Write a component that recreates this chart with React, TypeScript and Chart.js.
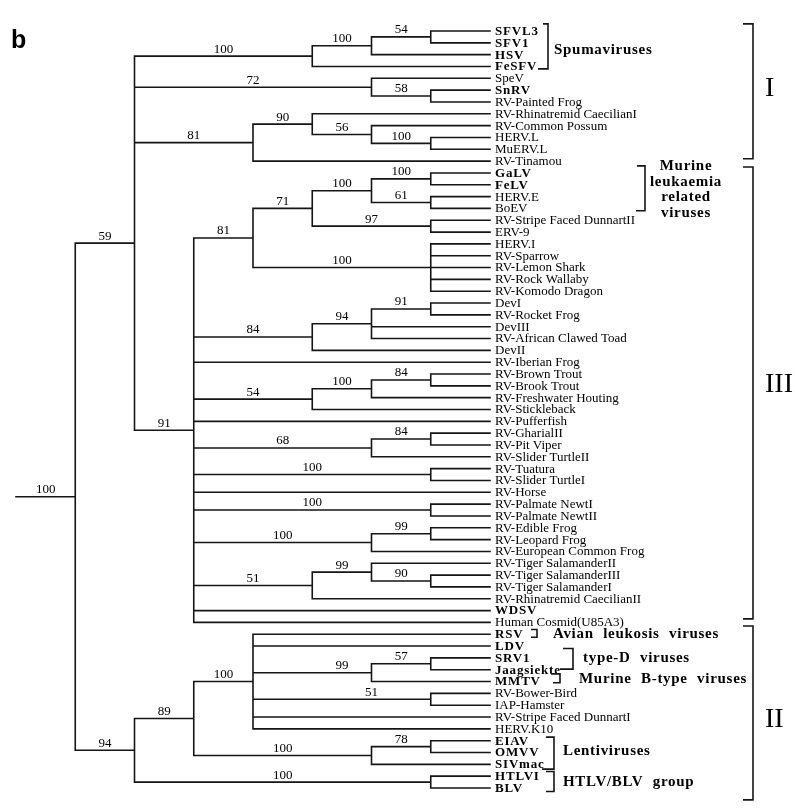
import React, { useEffect, useRef } from "react";
import { Chart, registerables } from "chart.js";

Chart.register(...registerables);

// ---------------- DATA ----------------
const LEAVES = [
  "SFVL3", "SFV1", "HSV", "FeSFV", "SpeV", "SnRV", "RV-Painted Frog",
  "RV-Rhinatremid CaecilianI", "RV-Common Possum", "HERV.L", "MuERV.L", "RV-Tinamou",
  "GaLV", "FeLV", "HERV.E", "BoEV", "RV-Stripe Faced DunnartII", "ERV-9",
  "HERV.I", "RV-Sparrow", "RV-Lemon Shark", "RV-Rock Wallaby", "RV-Komodo Dragon",
  "DevI", "RV-Rocket Frog", "DevIII", "RV-African Clawed Toad", "DevII", "RV-Iberian Frog",
  "RV-Brown Trout", "RV-Brook Trout", "RV-Freshwater Houting", "RV-Stickleback",
  "RV-Pufferfish", "RV-GharialII", "RV-Pit Viper", "RV-Slider TurtleII", "RV-Tuatura",
  "RV-Slider TurtleI", "RV-Horse", "RV-Palmate NewtI", "RV-Palmate NewtII",
  "RV-Edible Frog", "RV-Leopard Frog", "RV-European Common Frog",
  "RV-Tiger SalamanderII", "RV-Tiger SalamanderIII", "RV-Tiger SalamanderI",
  "RV-Rhinatremid CaecilianII", "WDSV", "Human Cosmid(U85A3)",
  "RSV", "LDV", "SRV1", "Jaagsiekte", "MMTV", "RV-Bower-Bird", "IAP-Hamster",
  "RV-Stripe Faced DunnartI", "HERV.K10", "EIAV", "OMVV", "SIVmac", "HTLVI", "BLV",
];

const BOLD_LEAVES = [
  "SFVL3", "SFV1", "HSV", "FeSFV", "SnRV", "GaLV", "FeLV", "WDSV", "RSV", "LDV",
  "SRV1", "Jaagsiekte", "MMTV", "EIAV", "OMVV", "SIVmac", "HTLVI", "BLV",
];

// Topology: leaves are indices into LEAVES; "(...)support@level" for internal nodes
// (level = column of the node, leaves sit in column 8); "#x" = column of the support label.
const TREE =
  "(" +
  "(" +
  "(((0,1)54@7,2)100@6,3)100@5," +
  "(4,(5,6)58@7)72@6," +
  "((7,(8,(9,10)100@7)56@6)90@5,11)81@4," +
  "(" +
  "((((12,13)100@7,(14,15)61@7)100@6,(16,17)97@7)71@5,(18,19,20,21,22)100@7)81@4," +
  "(((23,24)91@7,25,26)94@6,27)84@5," +
  "28," +
  "(((29,30)84@7,31)100@6,32)54@5," +
  "33," +
  "((34,35)84@7,36)68@6," +
  "(37,38)100@7," +
  "39," +
  "(40,41)100@7," +
  "((42,43)99@7,44)100@6," +
  "((45,(46,47)90@7)99@6,48)51@5," +
  "49," +
  "50" +
  ")91@3" +
  ")59@2," +
  "(" +
  "((51,52,((53,54)57@7,55)99@6#5.5,(56,57)51@7#6,58,59)100@4,((60,61)78@7,62)100@6)89@3," +
  "(63,64)100@7" +
  ")94@2" +
  ")100@1";

const GROUP_NAMES = [
  ["Spumaviruses"],
  ["Murine", "leukaemia", "related", "viruses"],
  ["Avian leukosis viruses"],
  ["type-D viruses"],
  ["Murine B-type viruses"],
  ["Lentiviruses"],
  ["HTLV/BLV group"],
];
const GROUP_FIRST = [0, 12, 51, 53, 55, 60, 63];
const GROUP_LAST = [3, 15, 51, 54, 55, 62, 64];

const CLADE_NAMES = ["I", "III", "II"];
const CLADE_FIRST = [0, 12, 51];
const CLADE_LAST = [11, 50, 64];

const PANEL_LABEL = "b";

// ---------------- LAYOUT / STYLE ----------------
const W = 795;
const H = 811;
const SERIF = "'Liberation Serif', 'Times New Roman', serif";
const INK = "#151515";
const GROUP_LAYOUT = [
  { bx: 548, tickTop: 5, tickBot: 10, tx: 554, row: 1.6, center: false },
  { bx: 645, tickTop: 8, tickBot: 9, tx: 686, row: 11.4, center: true },
  { bx: 537, tickTop: 6, tickBot: 6, tx: 553, row: 51, center: false },
  { bx: 573, tickTop: 10, tickBot: 13, tx: 583, row: 53, center: false },
  { bx: 560, tickTop: 9, tickBot: 7, tx: 579, row: 54.8, center: false },
  { bx: 554, tickTop: 8, tickBot: 12, tx: 563, row: 60.9, center: false },
  { bx: 554, tickTop: 8, tickBot: 8, tx: 563, row: 63.5, center: false },
];
const GROUP_SPAN = [
  [-0.6, 3.2], [11.4, 15.2], [50.6, 51.25], [52.2, 53.95], [54.35, 55.1], [59.7, 62.4], [62.6, 64.3],
];
const CLADE_SPAN = [
  [-0.6, 10.8], [11.5, 49.7], [50.3, 65.0],
];
const CLADE_LABEL_ROW = [4.8, 29.8, 58.1];

// ---------------- TREE PARSING ----------------
type TNode = {
  leaf: number;
  children: TNode[];
  support: string;
  level: number;
  labelLevel: number | null;
  y: number;
};

function parseTree(src: string): TNode {
  const s = src.replace(/\s+/g, "");
  let i = 0;
  const readNum = () => {
    let t = "";
    while (i < s.length && /[0-9.]/.test(s[i])) t += s[i++];
    return t;
  };
  const node = (): TNode => {
    if (s[i] === "(") {
      i++;
      const children: TNode[] = [node()];
      while (s[i] === ",") {
        i++;
        children.push(node());
      }
      i++; // ')'
      const support = readNum();
      let level = 8;
      let labelLevel: number | null = null;
      if (s[i] === "@") {
        i++;
        level = parseFloat(readNum());
      }
      if (s[i] === "#") {
        i++;
        labelLevel = parseFloat(readNum());
      }
      const y = (children[0].y + children[children.length - 1].y) / 2;
      return { leaf: -1, children, support, level, labelLevel, y };
    }
    const idx = parseInt(readNum(), 10);
    return { leaf: idx, children: [], support: "", level: 8, labelLevel: null, y: idx };
  };
  return node();
}

type Pt = { x: number; y: number };

function buildSegments(root: TNode) {
  const pts: Pt[] = [];
  const labels: { x: number; y: number; text: string }[] = [];
  const gap = { x: NaN, y: NaN };
  pts.push({ x: 0, y: root.y }, { x: root.level, y: root.y }, gap);
  labels.push({ x: root.labelLevel ?? root.level / 2, y: root.y, text: root.support });
  const walk = (n: TNode) => {
    for (const c of n.children) {
      pts.push({ x: n.level, y: n.y }, { x: n.level, y: c.y }, { x: c.level, y: c.y }, gap);
      if (c.children.length && c.support) {
        labels.push({
          x: c.labelLevel ?? (n.level + c.level) / 2,
          y: c.y,
          text: c.support,
        });
      }
      walk(c);
    }
  };
  walk(root);
  return { pts, labels };
}

// ---------------- COMPONENT ----------------
export default function App() {
  const ref = useRef<HTMLCanvasElement | null>(null);

  useEffect(() => {
    const canvas = ref.current;
    if (!canvas) return;
    const root = parseTree(TREE);
    const { pts, labels } = buildSegments(root);

    const textPlugin = {
      id: "treeText",
      afterDatasetsDraw(chart: any) {
        const ctx: CanvasRenderingContext2D = chart.ctx;
        const xs = chart.scales.x;
        const ys = chart.scales.y;
        const px = (v: number) => xs.getPixelForValue(v);
        const py = (v: number) => ys.getPixelForValue(v);
        ctx.save();
        ctx.fillStyle = "#000";
        ctx.strokeStyle = INK;
        ctx.lineWidth = 1.6;
        ctx.textBaseline = "middle";

        // support values
        ctx.font = `13px ${SERIF}`;
        ctx.textAlign = "center";
        for (const l of labels) {
          ctx.fillText(l.text, px(l.x), py(l.y) - 7);
        }

        // leaf names
        ctx.textAlign = "left";
        const lx = px(8) + 5;
        LEAVES.forEach((name, i) => {
          const bold = BOLD_LEAVES.includes(name);
          ctx.font = bold ? `bold 13px ${SERIF}` : `13px ${SERIF}`;
          (ctx as any).letterSpacing = bold ? "0.8px" : "0px";
          ctx.fillText(name, lx, py(i) + 0.5);
        });
        (ctx as any).letterSpacing = "0px";

        // group brackets + names
        GROUP_NAMES.forEach((lines, g) => {
          const L = GROUP_LAYOUT[g];
          const y0 = py(GROUP_SPAN[g][0]);
          const y1 = py(GROUP_SPAN[g][1]);
          ctx.beginPath();
          ctx.moveTo(L.bx - L.tickTop, y0);
          ctx.lineTo(L.bx, y0);
          ctx.lineTo(L.bx, y1);
          ctx.lineTo(L.bx - L.tickBot, y1);
          ctx.stroke();
          ctx.font = `bold 15px ${SERIF}`;
          (ctx as any).letterSpacing = "0.7px";
          (ctx as any).wordSpacing = "5px";
          ctx.textAlign = L.center ? "center" : "left";
          lines.forEach((t, k) => {
            ctx.fillText(t, L.tx, py(L.row) + k * 15.8);
          });
          (ctx as any).letterSpacing = "0px";
          (ctx as any).wordSpacing = "0px";
        });

        // clade brackets + roman numerals
        CLADE_NAMES.forEach((name, c) => {
          const y0 = py(CLADE_SPAN[c][0]);
          const y1 = py(CLADE_SPAN[c][1]);
          const bx = 753;
          ctx.beginPath();
          ctx.moveTo(bx - 10, y0);
          ctx.lineTo(bx, y0);
          ctx.lineTo(bx, y1);
          ctx.lineTo(bx - 10, y1);
          ctx.stroke();
          ctx.font = `28px ${SERIF}`;
          ctx.textAlign = "left";
          ctx.fillText(name, 765, py(CLADE_LABEL_ROW[c]) + 1);
        });

        // panel letter
        ctx.font = `bold 25px 'Liberation Sans', Arial, sans-serif`;
        ctx.textAlign = "left";
        ctx.textBaseline = "alphabetic";
        ctx.fillText(PANEL_LABEL, 11, 48);
        ctx.restore();
      },
    };

    const chart = new Chart(canvas, {
      type: "scatter",
      data: {
        datasets: [
          {
            data: pts as any,
            showLine: true,
            borderColor: INK,
            borderWidth: 1.6,
            pointRadius: 0,
            pointHoverRadius: 0,
            spanGaps: false,
            borderCapStyle: "square",
            borderJoinStyle: "miter",
            tension: 0,
            clip: false as any,
          } as any,
        ],
      },
      options: {
        responsive: false,
        animation: false,
        events: [],
        layout: { padding: { left: 16, right: W - 490, top: 31, bottom: H - 788 } },
        scales: {
          x: { type: "linear", min: 0, max: 8, display: false },
          y: { type: "linear", min: 0, max: 64, reverse: true, display: false },
        },
        plugins: { legend: { display: false }, tooltip: { enabled: false } },
      },
      plugins: [textPlugin],
    });
    return () => chart.destroy();
  }, []);

  return (
    <div style={{ position: "absolute", left: 0, top: 0, width: W, height: H, background: "#fff" }}>
      <canvas ref={ref} width={W} height={H} style={{ display: "block" }} />
    </div>
  );
}
